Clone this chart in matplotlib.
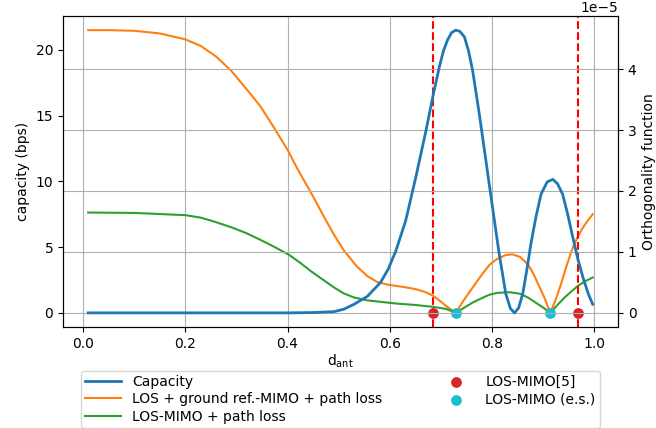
import matplotlib
matplotlib.use('Agg')
import matplotlib.pyplot as plt

x_orange = [0.01, 0.05, 0.10, 0.15, 0.20, 0.23, 0.26, 0.29, 0.32, 0.347, 0.37, 0.40,
            0.42, 0.445, 0.47, 0.49, 0.51, 0.535, 0.556, 0.575, 0.595, 0.612, 0.63,
            0.651, 0.668, 0.684, 0.697, 0.71, 0.72, 0.729, 0.745, 0.762, 0.78, 0.795,
            0.81, 0.827, 0.84, 0.855, 0.87, 0.88, 0.89, 0.902, 0.914, 0.925, 0.935,
            0.946, 0.958, 0.968, 0.978, 0.988, 0.997]
y_orange = [21.5, 21.5, 21.45, 21.25, 20.8, 20.3, 19.5, 18.4, 17.0, 15.7, 14.3, 12.4,
            10.9, 9.2, 7.4, 6.0, 4.75, 3.55, 2.8, 2.35, 2.15, 2.05, 1.95,
            1.8, 1.6, 1.32, 0.95, 0.53, 0.25, 0.0, 0.98, 1.92, 2.9, 3.65,
            4.1, 4.4, 4.45, 4.25, 3.7, 3.05, 2.2, 1.2, 0.0, 1.05, 2.2,
            3.6, 4.97, 5.8, 6.5, 7.05, 7.5]

x_green = [0.01, 0.10, 0.20, 0.229, 0.25, 0.269, 0.294, 0.32, 0.347, 0.375, 0.403,
           0.425, 0.445, 0.47, 0.491, 0.51, 0.53, 0.556, 0.582, 0.612, 0.65, 0.684,
           0.71, 0.72, 0.729, 0.745, 0.762, 0.78, 0.795, 0.81, 0.835, 0.855, 0.87,
           0.88, 0.89, 0.902, 0.914, 0.928, 0.942, 0.955, 0.968, 0.982, 0.997]
y_green = [7.63, 7.6, 7.43, 7.25, 7.02, 6.78, 6.45, 6.05, 5.55, 5.0, 4.41,
           3.8, 3.19, 2.5, 1.93, 1.48, 1.17, 0.95, 0.84, 0.71, 0.6, 0.46,
           0.3, 0.15, 0.0, 0.38, 0.78, 1.12, 1.38, 1.52, 1.57, 1.45, 1.17,
           0.92, 0.66, 0.35, 0.0, 0.6, 1.17, 1.62, 2.05, 2.4, 2.69]

# orthogonality function (units of 1e-5)
x_blue = [0.01, 0.10, 0.20, 0.30, 0.40, 0.45, 0.491, 0.51, 0.53, 0.556, 0.582, 0.597,
          0.612, 0.631, 0.651, 0.671, 0.684, 0.697, 0.705, 0.713, 0.721, 0.729, 0.737,
          0.746, 0.754, 0.762, 0.775, 0.788, 0.801, 0.814, 0.827, 0.836, 0.844, 0.852,
          0.86, 0.868, 0.876, 0.886, 0.896, 0.908, 0.919, 0.928, 0.938, 0.948, 0.958,
          0.968, 0.978, 0.988, 0.997]
y_blue = [0.0, 0.0, 0.0, 0.0, 0.0, 0.005, 0.02, 0.06, 0.14, 0.27, 0.5, 0.72,
          1.02, 1.51, 2.23, 3.0, 3.54, 4.04, 4.3, 4.48, 4.6, 4.64, 4.62,
          4.53, 4.3, 3.98, 3.27, 2.5, 1.73, 0.97, 0.31, 0.07, 0.0, 0.08,
          0.31, 0.7, 1.13, 1.58, 1.95, 2.15, 2.19, 2.12, 1.95, 1.62, 1.24,
          0.88, 0.58, 0.32, 0.14]

x_los_ref = [0.684, 0.969]
x_los_es = [0.73, 0.914]

fig = plt.figure(figsize=(6.56, 4.28), dpi=100)
ax = fig.add_axes([0.096, 0.236, 0.846, 0.7266])
ax2 = ax.twinx()

l2, = ax.plot(x_orange, y_orange, color='tab:orange', lw=1.5,
              label='LOS + ground ref.-MIMO + path loss')
l3, = ax.plot(x_green, y_green, color='tab:green', lw=1.5, label='LOS-MIMO + path loss')
l1, = ax2.plot(x_blue, [v * 1e-5 for v in y_blue], color='tab:blue', lw=2, label='Capacity')

for xv in x_los_ref:
    ax.axvline(xv, color='red', ls='--', lw=1.5)
s1 = ax.scatter(x_los_ref, [0] * len(x_los_ref), color='tab:red', s=45, zorder=5,
                label='LOS-MIMO[5]')
s2 = ax.scatter(x_los_es, [0] * len(x_los_es), color='tab:cyan', s=45, zorder=5,
                label='LOS-MIMO (e.s.)')

ax.set_xlabel(r'd$_{\rm ant}$', labelpad=1)
ax.set_ylabel('capacity (bps)')
ax2.set_ylabel('Orthogonality function')
ax.grid(axis='x')
ax2.grid(axis='y')

handles = [l1, l2, l3, s1, s2]
ax.legend(handles, [h.get_label() for h in handles],
          loc='upper center', bbox_to_anchor=(0.5, -0.118), ncol=2,
          columnspacing=4.0, handlelength=2.6, labelspacing=0.25, borderpad=0.3)

fig.savefig('out.png')
